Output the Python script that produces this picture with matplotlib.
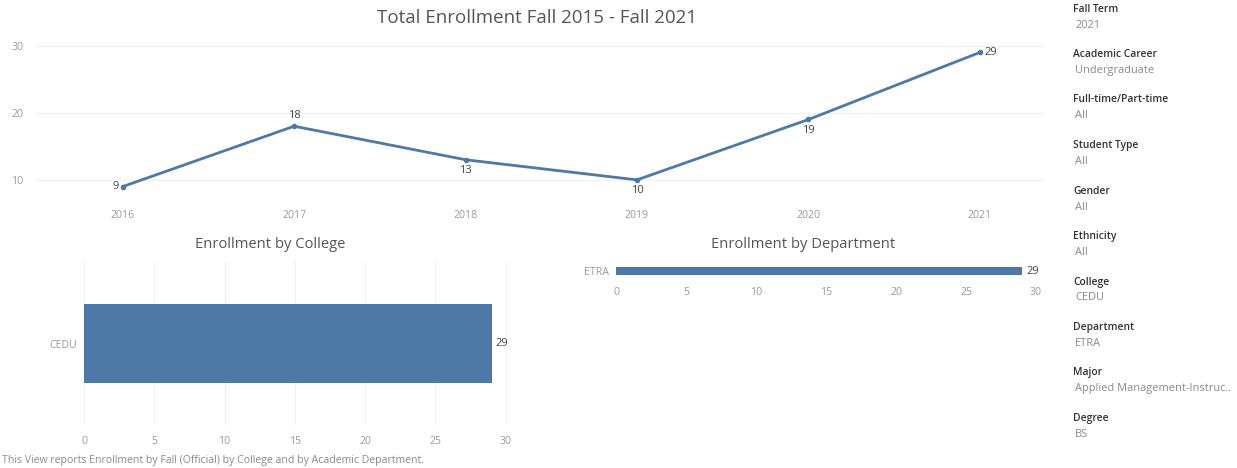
import numpy as np
import matplotlib
matplotlib.use("Agg")
import matplotlib.pyplot as plt

# --- Data ---
years = [2016, 2017, 2018, 2019, 2020, 2021]
enrollment = [9, 18, 13, 10, 19, 29]
label_pos = ["left", "above", "below", "below", "below", "right"]

colleges = ["CEDU"]
college_counts = [29]

departments = ["ETRA"]
department_counts = [29]

filter_names = ["Fall Term", "Academic Career", "Full-time/Part-time", "Student Type",
                "Gender", "Ethnicity", "College", "Department", "Major", "Degree"]
filter_values = ["2021", "Undergraduate", "All", "All", "All", "All", "CEDU", "ETRA",
                 "Applied Management-Instruc..", "BS"]

# --- Style ---
plt.rcParams["font.family"] = ["Open Sans", "DejaVu Sans"]
BLUE = "#4e79a7"
TICK = "#9a9a9a"
TITLE = "#555555"
GRID = "#f0f0f0"
TICK_FS = 7.6
LBL_FS = 8

W, H = 1237, 468
fig = plt.figure(figsize=(W / 100, H / 100), dpi=100)


def px_axes(left, top, right, bottom):
    return fig.add_axes([left / W, 1 - bottom / H, (right - left) / W, (bottom - top) / H])


def clean(ax):
    for s in ax.spines.values():
        s.set_visible(False)
    ax.tick_params(length=0, labelsize=TICK_FS, colors=TICK)


# --- Top line chart ---
ax = px_axes(37, 39, 1045, 200)
clean(ax)
ax.plot(years, enrollment, color=BLUE, lw=2, marker="o", ms=3, zorder=3)
ax.set_xlim(2015.5, 2021.38)
ax.set_ylim(7, 31)
ax.set_yticks([10, 20, 30])
ax.set_xticks(years)
ax.grid(axis="y", color=GRID, lw=0.8)
ax.tick_params(axis="x", pad=7)
ax.tick_params(axis="y", pad=10)
for x, y, p in zip(years, enrollment, label_pos):
    if p == "left":
        ax.annotate(str(y), (x, y), xytext=(-3, 0), textcoords="offset points",
                    ha="right", va="center", fontsize=LBL_FS, color="#444444")
    elif p == "right":
        ax.annotate(str(y), (x, y), xytext=(3, 0), textcoords="offset points",
                    ha="left", va="center", fontsize=LBL_FS, color="#444444")
    elif p == "above":
        ax.annotate(str(y), (x, y), xytext=(0, 4), textcoords="offset points",
                    ha="center", va="bottom", fontsize=LBL_FS, color="#444444")
    else:
        ax.annotate(str(y), (x, y), xytext=(0, -4), textcoords="offset points",
                    ha="center", va="top", fontsize=LBL_FS, color="#444444")
fig.text(537 / W, 1 - 18 / H, "Total Enrollment Fall 2015 - Fall 2021",
         ha="center", va="center", fontsize=13.5, color=TITLE)

# --- Enrollment by College ---
axc = px_axes(84, 262, 531, 425)
clean(axc)
axc.barh(colleges, college_counts, height=0.98, color=BLUE, zorder=3)
axc.set_xlim(0, 31.8)
axc.set_ylim(-1, 1)
axc.set_xticks(range(0, 31, 5))
axc.grid(axis="x", color=GRID, lw=0.8)
axc.tick_params(axis="x", pad=8)
axc.tick_params(axis="y", pad=5)
for i, v in enumerate(college_counts):
    axc.annotate(str(v), (v, i), xytext=(3, 0), textcoords="offset points",
                 ha="left", va="center", fontsize=LBL_FS, color="#444444")
fig.text(270 / W, 1 - 244 / H, "Enrollment by College",
         ha="center", va="center", fontsize=10.6, color=TITLE)

# --- Enrollment by Department ---
axd = px_axes(616, 262, 1045, 280)
clean(axd)
axd.barh(departments, department_counts, height=0.89, color=BLUE, zorder=3)
axd.set_xlim(0, 30.64)
axd.set_ylim(-1, 1)
axd.set_xticks(range(0, 31, 5))
axd.tick_params(axis="x", pad=5)
axd.tick_params(axis="y", pad=5)
for i, v in enumerate(department_counts):
    axd.annotate(str(v), (v, i), xytext=(3, 0), textcoords="offset points",
                 ha="left", va="center", fontsize=LBL_FS, color="#444444")
fig.text(803 / W, 1 - 244 / H, "Enrollment by Department",
         ha="center", va="center", fontsize=10.6, color=TITLE)

# --- Filter panel ---
for k, (name, val) in enumerate(zip(filter_names, filter_values)):
    y0 = 9 + k * 45.5
    fig.text(1073 / W, 1 - y0 / H, name, ha="left", va="center",
             fontsize=7.4, color="#333333", fontweight="semibold")
    fig.text(1075 / W, 1 - (y0 + 16) / H, val, ha="left", va="center",
             fontsize=7.9, color="#8a8a8a")

# --- Footer ---
fig.text(2 / W, 1 - 461 / H,
         "This View reports Enrollment by Fall (Official) by College and by Academic Department.",
         ha="left", va="center", fontsize=7.6, color="#8a8a8a")

fig.savefig("out.png", dpi=100, facecolor="white")
